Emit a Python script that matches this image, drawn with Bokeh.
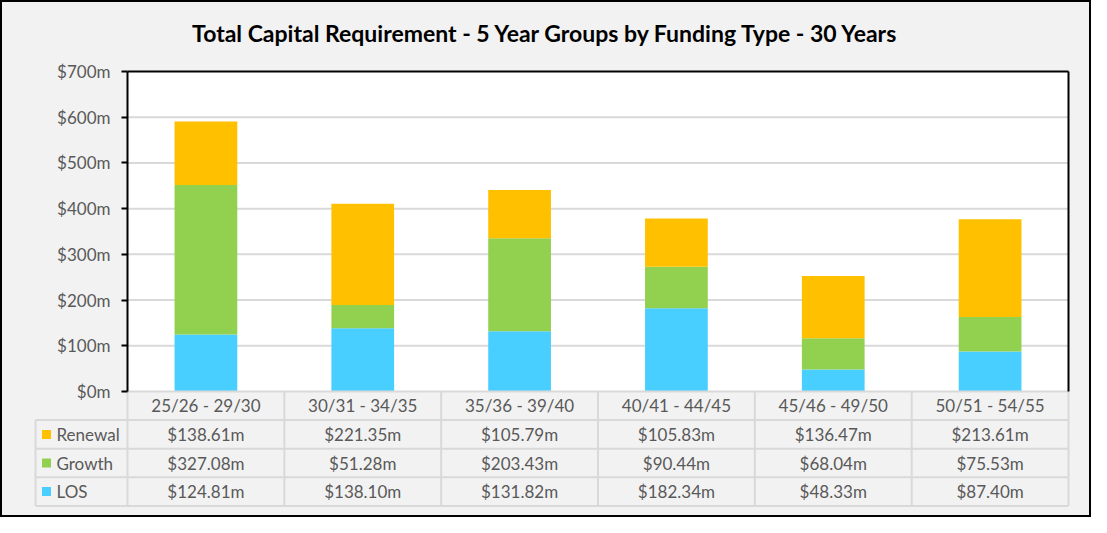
from bokeh.plotting import figure
from bokeh.layouts import column
from bokeh.models import Range1d, LinearAxis, FixedTicker, ColumnDataSource, BoxAnnotation, Label
from bokeh.core.properties import value
from bokeh.embed import file_html
from bokeh.resources import INLINE

# ---------------- data ----------------
title_text = "Total Capital Requirement - 5 Year Groups by Funding Type - 30 Years"
categories = ["25/26 - 29/30", "30/31 - 34/35", "35/36 - 39/40",
              "40/41 - 44/45", "45/46 - 49/50", "50/51 - 54/55"]
series_names = ["Renewal", "Growth", "LOS"]
renewal = [138.61, 221.35, 105.79, 105.83, 136.47, 213.61]
growth = [327.08, 51.28, 203.43, 90.44, 68.04, 75.53]
los = [124.81, 138.10, 131.82, 182.34, 48.33, 87.40]
y_ticks = [0, 100, 200, 300, 400, 500, 600, 700]
y_tick_labels = ["$0m", "$100m", "$200m", "$300m", "$400m", "$500m", "$600m", "$700m"]

# ---------------- style ----------------
COLORS = {"LOS": "#48CFFF", "Growth": "#92D050", "Renewal": "#FFC000"}
BG = "#F2F2F2"
GRID = "#D9D9D9"
TXT = "#595959"
FONT = "Lato"

W = 1087          # inside the black border
H = 513
PLOT_L = 125      # left edge of the white plot area
PLOT_W = 941
PLOT_T = 69
PLOT_PX = 320     # height of the 0..700 area
ROW_PX = 28.6
LEG_W = 92
TITLE_CX = 543.5
TITLE_CY = 30

n_cat = len(categories)
n_rows = 1 + len(series_names)
ymax = y_ticks[-1]
cat_w = PLOT_W / n_cat
u_px = ymax / PLOT_PX
xl = -LEG_W / cat_w
row_u = ROW_PX * u_px
tbl_bottom = -n_rows * row_u

x_start = -PLOT_L / cat_w
x_end = n_cat + (W - PLOT_L - PLOT_W) / cat_w
y_end = ymax + PLOT_T * u_px
y_start = -(H - PLOT_T - PLOT_PX) * u_px

p = figure(x_range=Range1d(x_start, x_end), y_range=Range1d(y_start, y_end),
           frame_width=W, frame_height=H, min_border=0,
           x_axis_location=None, y_axis_location=None,
           output_backend="svg", toolbar_location=None,
           background_fill_color=BG, border_fill_color=BG,
           outline_line_color=None)
p.grid.visible = False

# title
p.add_layout(Label(x=(TITLE_CX - PLOT_L) / cat_w, y=ymax + (PLOT_T - TITLE_CY) * u_px,
                   text=title_text, text_align="center", text_baseline="middle",
                   text_font=FONT, text_font_size="23px", text_font_style="bold",
                   text_color="black"))

# white plot area
p.add_layout(BoxAnnotation(left=0, right=n_cat, bottom=0, top=ymax,
                           fill_color="white", fill_alpha=1, line_color=None,
                           level="underlay"))

# horizontal gridlines of the plot area
gt = [t for t in y_ticks if 0 < t < ymax]
p.segment(x0=[0] * len(gt), y0=gt, x1=[n_cat] * len(gt), y1=gt,
          line_color=GRID, line_width=2)

# stacked bars
src = ColumnDataSource(dict(x=[i + 0.5 for i in range(n_cat)], cat=categories,
                            LOS=los, Growth=growth, Renewal=renewal))
p.vbar_stack(["LOS", "Growth", "Renewal"], x="x", width=0.4, source=src,
             color=[COLORS["LOS"], COLORS["Growth"], COLORS["Renewal"]],
             line_color=None)

# axes
ya = LinearAxis(fixed_location=0, bounds=(0, ymax), ticker=FixedTicker(ticks=y_ticks))
ya.major_label_overrides = {t: l for t, l in zip(y_ticks, y_tick_labels)}
ya.major_label_text_font = FONT
ya.major_label_text_font_size = "17px"
ya.major_label_text_color = TXT
ya.major_label_standoff = 11
ya.axis_line_color = "black"
ya.axis_line_width = 2
ya.major_tick_line_color = "black"
ya.major_tick_line_width = 2
ya.major_tick_in = 0
ya.major_tick_out = 6
ya.minor_tick_line_color = None
p.add_layout(ya, "left")

ta = LinearAxis(fixed_location=ymax, bounds=(0, n_cat), ticker=FixedTicker(ticks=[]),
                axis_line_color="black", axis_line_width=2,
                major_tick_line_color=None, minor_tick_line_color=None)
p.add_layout(ta, "above")

ra = LinearAxis(fixed_location=n_cat, bounds=(0, ymax), ticker=FixedTicker(ticks=[]),
                axis_line_color="black", axis_line_width=2,
                major_tick_line_color=None, minor_tick_line_color=None)
p.add_layout(ra, "right")

# ---------------- data table ----------------
x0, y0, x1, y1 = [], [], [], []
x0.append(0); y0.append(0); x1.append(n_cat); y1.append(0)
for r in range(1, n_rows + 1):
    x0.append(xl); y0.append(-r * row_u); x1.append(n_cat); y1.append(-r * row_u)
x0.append(xl); y0.append(-row_u); x1.append(xl); y1.append(tbl_bottom)
for c in range(n_cat + 1):
    x0.append(c); y0.append(0); x1.append(c); y1.append(tbl_bottom)
p.segment(x0=x0, y0=y0, x1=x1, y1=y1, line_color=GRID, line_width=2)

# category row
p.text(x=[i + 0.5 for i in range(n_cat)], y=[-0.5 * row_u] * n_cat,
       text=categories, text_align="center", text_baseline="middle",
       text_font=value(FONT), text_font_size="17px", text_color=TXT)

series_vals = {"Renewal": renewal, "Growth": growth, "LOS": los}
for k, name in enumerate(series_names):
    yrow = -(k + 1.5) * row_u
    vals = series_vals[name]
    p.text(x=[i + 0.5 for i in range(n_cat)], y=[yrow] * n_cat,
           text=[f"${v:.2f}m" for v in vals], text_align="center", text_baseline="middle",
           text_font=value(FONT), text_font_size="17px", text_color=TXT)
    p.scatter(x=[xl + 11 / cat_w], y=[yrow], marker="square", size=9,
              fill_color=COLORS[name], line_color=None)
    p.text(x=[xl + 21 / cat_w], y=[yrow], text=[name], text_align="left",
           text_baseline="middle", text_font=value(FONT), text_font_size="17px",
           text_color=TXT)

layout = column(p, styles={"border": "2px solid black", "background-color": BG})

open("out.html", "w").write(file_html(layout, INLINE))
